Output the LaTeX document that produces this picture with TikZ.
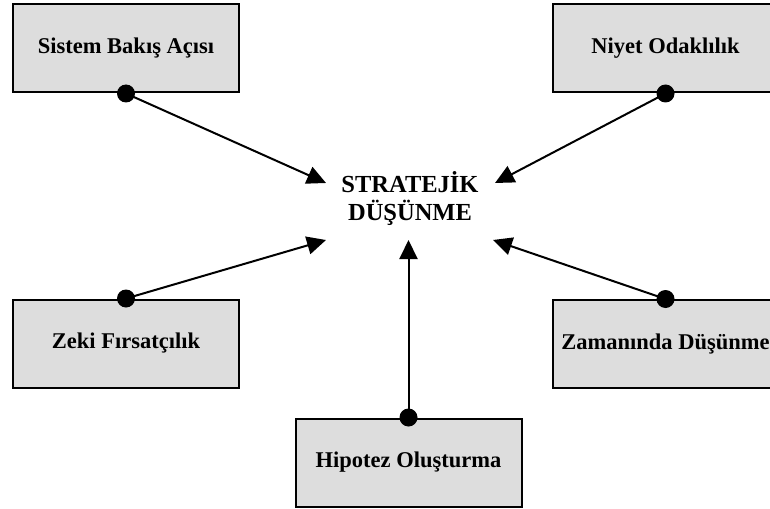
\documentclass[tikz,border=0pt]{standalone}
\usepackage{fontspec}
\setmainfont{Liberation Serif}
\usetikzlibrary{arrows.meta}
\definecolor{boxgray}{RGB}{221,221,221}
\tikzset{
  factor/.style={draw=black, fill=boxgray, line width=2pt, minimum width=226pt,
    minimum height=88pt, inner sep=0pt, font=\fontsize{22.5}{26}\selectfont\bfseries},
  link/.style={line width=2pt, -{Triangle[length=19pt, width=18pt]}},
  joint/.style={circle, fill=black, minimum size=18pt, inner sep=0pt}
}
\begin{document}
\begin{tikzpicture}[x=1pt, y=-1pt]
  \useasboundingbox (0,0) rectangle (770,508);
  % central concept
  \node[align=center, font=\fontsize{24.5}{28}\selectfont\bfseries] (c) at (410,199)
    {STRATEJİK\\DÜŞÜNME};
  % the five dimensions
  \node[factor] (sba) at (126,48.5) {Sistem Bakış Açısı};
  \node[factor] (no)  at (665.5,48.5) {Niyet Odaklılık};
  \node[factor] (zf)  at (126,343.5) {Zeki Fırsatçılık};
  \node[factor] (zd)  at (665.5,344) {Zamanında Düşünme};
  \node[factor] (ho)  at (408.5,462.5) {Hipotez Oluşturma};
  % arrow tips around the central concept
  \coordinate (tl) at (326,183);
  \coordinate (tr) at (495,183);
  \coordinate (bl) at (326,240);
  \coordinate (br) at (493,240);
  \coordinate (bm) at (408.5,240);
  % connectors
  \draw[link] (sba.south) -- (tl);
  \draw[link] (no.south)  -- (tr);
  \draw[link] (zf.north)  -- (bl);
  \draw[link] (zd.north)  -- (br);
  \draw[link] (ho.north)  -- (bm);
  % joints on the boxes
  \foreach \p in {sba.south, no.south, zf.north, zd.north, ho.north}
    \node[joint] at (\p) {};
\end{tikzpicture}
\end{document}
